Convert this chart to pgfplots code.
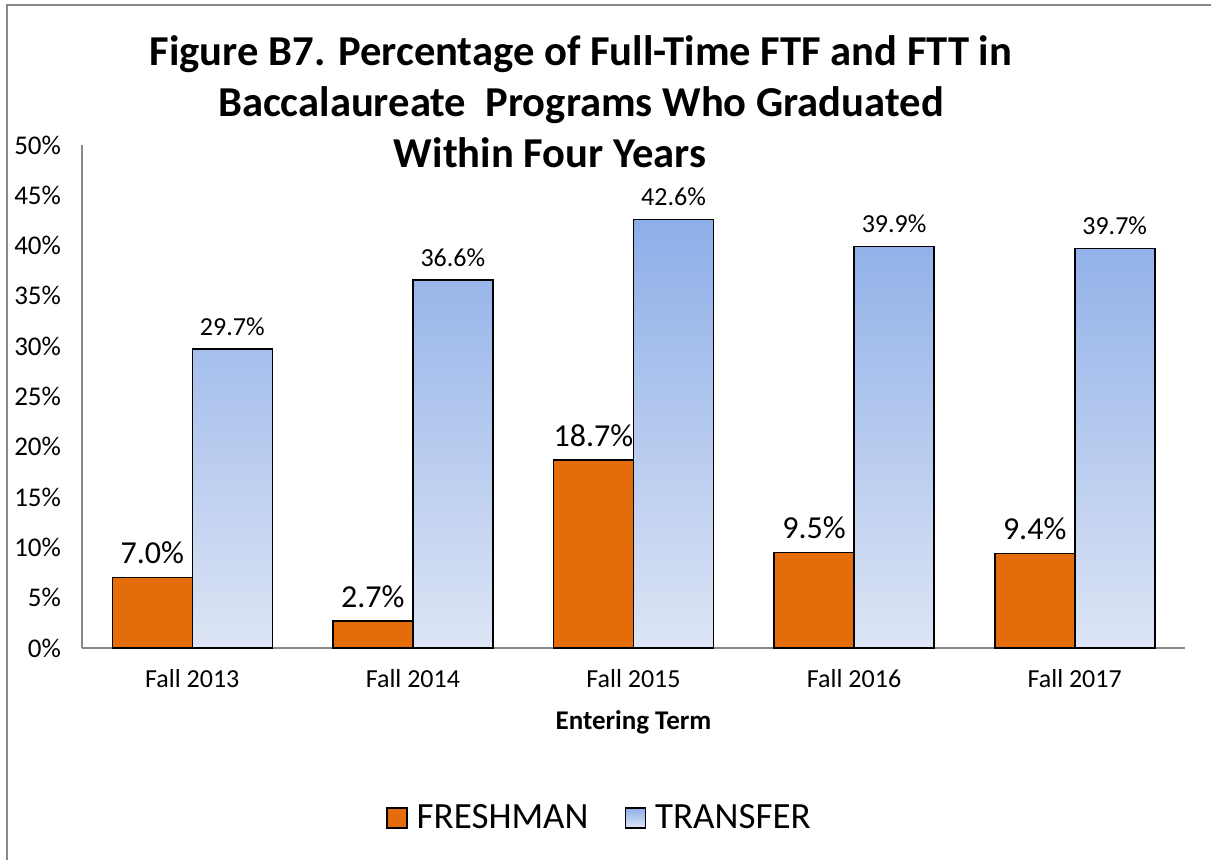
\documentclass[border=0pt]{standalone}
\usepackage{pgfplots}
\pgfplotsset{compat=1.18}
\usepackage{fontspec}
\setmainfont{Carlito}
\definecolor{fresh}{HTML}{E46C0A}
\definecolor{tranTop}{HTML}{8DAEE8}
\definecolor{tranBot}{HTML}{DDE5F5}
\definecolor{axgray}{HTML}{888888}
\begin{document}
\begin{tikzpicture}
\begin{axis}[
  scale only axis,
  width=551.5pt, height=251.5pt,
  xmin=-0.5, xmax=4.5,
  ymin=0, ymax=50,
  ytick={0,5,...,50},
  yticklabel={\pgfmathprintnumber{\tick}\%},
  /pgf/number format/assume math mode=true,
  xtick={0,1,2,3,4},
  xticklabels={Fall 2013,Fall 2014,Fall 2015,Fall 2016,Fall 2017},
  axis x line*=bottom, axis y line*=left,
  axis line style={axgray, line width=1pt, -},
  major tick length=0pt,
  tick label style={black},
  yticklabel style={font=\fontsize{13.5}{15}\selectfont, xshift=-7pt},
  xticklabel style={font=\fontsize{13}{15}\selectfont, yshift=-7pt},
  xlabel={\textbf{Entering Term}},
  xlabel style={font=\fontsize{13.5}{15}\selectfont, yshift=-5pt},
  ybar=0pt, bar width=40pt,
  legend style={at={(0.47,-0.338)}, anchor=center, draw=none,
    font=\fontsize{18.5}{20}\selectfont, legend columns=2,
    /tikz/every even column/.append style={column sep=16pt}},
  legend cell align=left,
  legend image code/.code={\draw[#1, line width=0.8pt] (0pt,-5pt) rectangle (10pt,5pt);},
  clip=false,
]
\addplot[fill=fresh, draw=black, line width=0.8pt,
  nodes near coords={\pgfmathprintnumber[fixed,fixed zerofill,precision=1]{\pgfplotspointmeta}\%},
  every node near coord/.append style={font=\fontsize{16}{18}\selectfont, black, yshift=3pt}]
  coordinates {(0,7.0) (1,2.7) (2,18.7) (3,9.5) (4,9.4)};
\addplot[top color=tranTop, bottom color=tranBot, draw=black, line width=0.8pt,
  nodes near coords={\pgfmathprintnumber[fixed,fixed zerofill,precision=1]{\pgfplotspointmeta}\%},
  every node near coord/.append style={font=\fontsize{13}{15}\selectfont, black, yshift=3pt}]
  coordinates {(0,29.7) (1,36.6) (2,42.6) (3,39.9) (4,39.7)};
\legend{\hspace{2.5pt}FRESHMAN, \hspace{2.5pt}TRANSFER}
\coordinate (ll) at (rel axis cs:0,0);
\coordinate (ur) at (rel axis cs:1,1);
\end{axis}
\useasboundingbox ([shift={(-41pt,-106pt)}]ll) rectangle ([shift={(13pt,72.5pt)}]ur);
\draw[axgray, line width=1pt] ([shift={(-37.5pt,-110pt)}]ll) -- ([shift={(-37.5pt,70pt)}]ll|-ur) -- ([shift={(20pt,70pt)}]ur);
\node[anchor=base, font=\fontsize{21.3}{25}\selectfont\bfseries] at ([shift={(249.5pt,39.5pt)}]ll|-ur) {Figure B7. Percentage of Full-Time FTF and FTT in};
\node[anchor=base, font=\fontsize{21.3}{25}\selectfont\bfseries] at ([shift={(249.5pt,14pt)}]ll|-ur) {Baccalaureate\ \ Programs Who Graduated};
\node[anchor=base, font=\fontsize{21.3}{25}\selectfont\bfseries] at ([shift={(234pt,-11.5pt)}]ll|-ur) {Within Four Years};
\end{tikzpicture}
\end{document}
